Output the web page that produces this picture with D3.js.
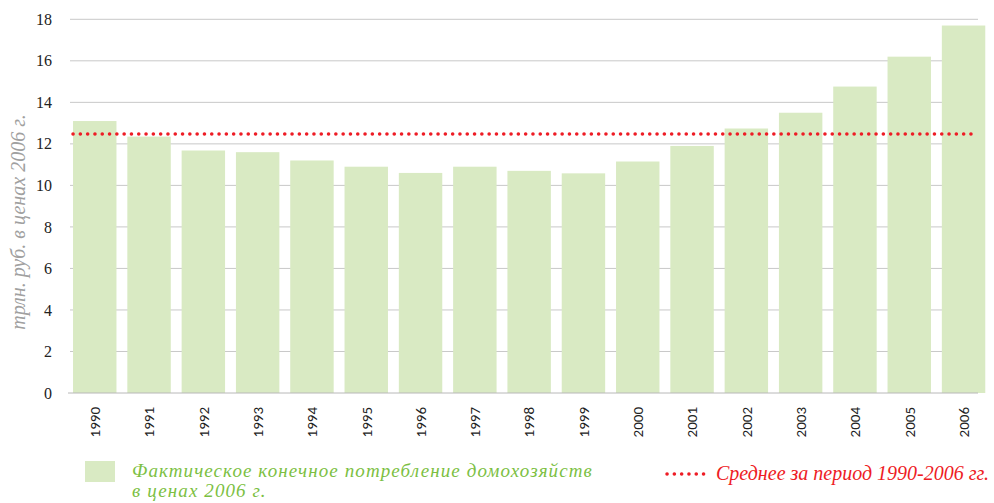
<!DOCTYPE html>
<html>
<head>
<meta charset="utf-8">
<script src="https://cdn.jsdelivr.net/npm/d3@7"></script>
<style>
  body { margin: 0; background: #fff; }
  .serif { font-family: 'Liberation Serif', 'DejaVu Serif', serif; }
</style>
</head>
<body>
<svg width="994" height="503"></svg>
<script>
var years = ["1990", "1991", "1992", "1993", "1994", "1995", "1996", "1997", "1998",
             "1999", "2000", "2001", "2002", "2003", "2004", "2005", "2006"];
var consumption = [13.1, 12.35, 11.68, 11.6, 11.2, 10.9, 10.6, 10.9, 10.7,
                   10.58, 11.15, 11.9, 12.74, 13.5, 14.76, 16.2, 17.7];
var average = [12.48];
var yTicks = [0, 2, 4, 6, 8, 10, 12, 14, 16, 18];

var svg = d3.select("svg");

var x = d3.scaleBand()
    .domain(years)
    .range([67.6, 990.7])
    .paddingInner(0.2)
    .paddingOuter(0.1);

var y = d3.scaleLinear()
    .domain([0, 18])
    .range([393, 19.3]);

var gridLeft = 70, gridRight = 978;

// gridlines
svg.append("g").selectAll("line")
    .data(yTicks.filter(function(d) { return d > 0; }))
    .enter().append("line")
    .attr("x1", gridLeft).attr("x2", gridRight)
    .attr("y1", function(d) { return y(d); })
    .attr("y2", function(d) { return y(d); })
    .attr("stroke", "#c8c8c8")
    .attr("stroke-width", 1);

// bars
svg.append("g").selectAll("rect")
    .data(consumption)
    .enter().append("rect")
    .attr("x", function(d, i) { return x(years[i]); })
    .attr("width", x.bandwidth())
    .attr("y", function(d) { return y(d); })
    .attr("height", function(d) { return y(0) - y(d); })
    .attr("fill", "#d9eac3");

// baseline
svg.append("line")
    .attr("x1", gridLeft - 2).attr("x2", gridRight)
    .attr("y1", y(0)).attr("y2", y(0))
    .attr("stroke", "#b8b8b8")
    .attr("stroke-width", 1);

// y axis labels
var yAxis = d3.axisLeft(y).tickValues(yTicks).tickSize(0).tickPadding(0);
var yg = svg.append("g")
    .attr("transform", "translate(52,0)")
    .call(yAxis);
yg.attr("font-family", null);
yg.select(".domain").remove();
yg.selectAll("text")
    .attr("class", "serif")
    .attr("font-size", 16)
    .attr("fill", "#222");

// x axis labels
var xAxis = d3.axisBottom(x).tickSize(0).tickPadding(0);
var xg = svg.append("g")
    .attr("transform", "translate(0," + y(0) + ")")
    .call(xAxis);
xg.select(".domain").remove();
xg.selectAll("text")
    .style("font-family", "Carlito, 'Liberation Sans', sans-serif")
    .attr("font-size", 15)
    .attr("fill", "#222")
    .attr("text-anchor", "end")
    .attr("transform", "rotate(-90)")
    .attr("x", -14)
    .attr("y", 0)
    .attr("dy", "0.35em");

// average dotted line
svg.append("g").selectAll("line")
    .data(average)
    .enter().append("line")
    .attr("x1", 73).attr("x2", 974)
    .attr("y1", function(d) { return y(d); })
    .attr("y2", function(d) { return y(d); })
    .attr("stroke", "#ee1c25")
    .attr("stroke-width", 3.5)
    .attr("stroke-linecap", "round")
    .attr("stroke-dasharray", "0.1 7.2");

// y axis title
svg.append("text")
    .attr("class", "serif")
    .attr("transform", "translate(25,222) rotate(-90)")
    .attr("text-anchor", "middle")
    .attr("font-style", "italic")
    .attr("font-size", 20)
    .attr("fill", "#a0a0a0")
    .text("трлн. руб. в ценах 2006 г.");

// legend
svg.append("rect")
    .attr("x", 85).attr("y", 461)
    .attr("width", 30).attr("height", 21)
    .attr("fill", "#d9eac3");

var legText = svg.append("text")
    .attr("class", "serif")
    .attr("font-style", "italic")
    .attr("font-size", 19)
    .attr("letter-spacing", 1.1)
    .attr("fill", "#7cbf43");
legText.append("tspan").attr("x", 132).attr("y", 477)
    .text("Фактическое конечное потребление домохозяйств");
legText.append("tspan").attr("x", 132).attr("y", 497)
    .text("в ценах 2006 г.");

svg.append("line")
    .attr("x1", 667).attr("x2", 706)
    .attr("y1", 474).attr("y2", 474)
    .attr("stroke", "#ee1c25")
    .attr("stroke-width", 3.5)
    .attr("stroke-linecap", "round")
    .attr("stroke-dasharray", "0.1 7.2");

svg.append("text")
    .attr("class", "serif")
    .attr("x", 716).attr("y", 480)
    .attr("font-style", "italic")
    .attr("font-size", 20)
    .attr("fill", "#ee1c25")
    .text("Среднее за период 1990-2006 гг.");
</script>
</body>
</html>
